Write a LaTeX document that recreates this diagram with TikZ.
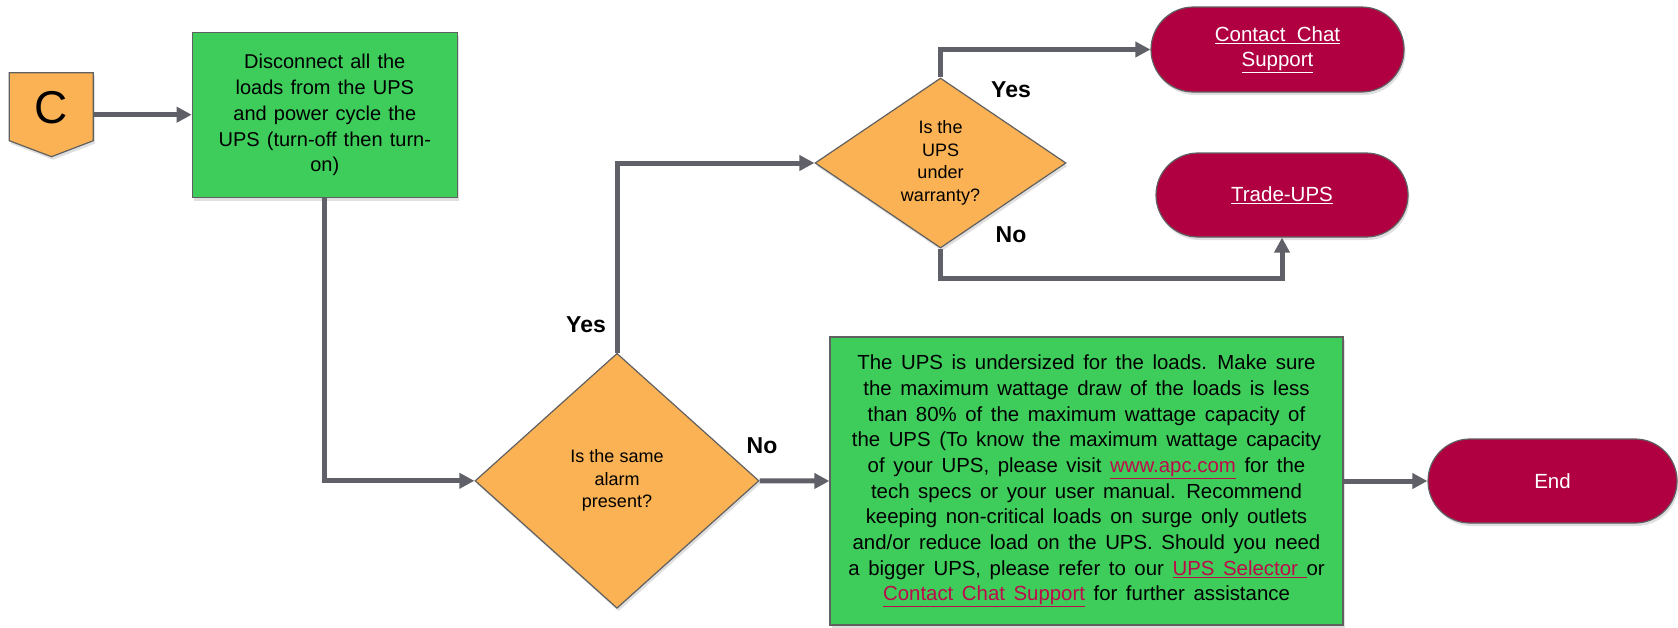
\documentclass[tikz,border=0pt]{standalone}
\usepackage{fontspec}
\setmainfont{Liberation Sans}
\usetikzlibrary{shapes.geometric,shapes.misc,shadows,arrows.meta}
\definecolor{boxgreen}{RGB}{62,205,91}
\definecolor{decorange}{RGB}{251,178,84}
\definecolor{pillred}{RGB}{176,0,66}
\definecolor{linegray}{RGB}{96,97,104}
\definecolor{bordergray}{RGB}{96,96,96}
\definecolor{linkred}{RGB}{190,10,76}
\newcommand{\lnk}[1]{{\color{linkred}\underline{#1}}}
\newcommand{\wlnk}[1]{\underline{#1}}
\newcommand{\wsA}{\fontsize{20}{25.7}\selectfont\spaceskip=0.36em plus 0.1em\relax}
\newcommand{\wsB}{\fontsize{20.4}{25.7}\selectfont\spaceskip=0.42em plus 0.1em\relax}
\tikzset{
  shad/.style={drop shadow={shadow xshift=1.5pt,shadow yshift=-3pt,opacity=0.25}},
  greenbox/.style={rectangle,draw=bordergray,line width=1.2pt,fill=boxgreen,shad,
    inner sep=0pt,align=center,font=\wsA},
  widebox/.style={greenbox,font=\wsB},
  decision/.style={diamond,draw=bordergray,line width=1.2pt,fill=decorange,shad,
    inner sep=0pt,align=center,font=\fontsize{18}{22.5}\selectfont},
  pill/.style={rounded rectangle,draw=bordergray,line width=1.2pt,fill=pillred,shad,
    inner sep=0pt,align=center,text=white,font=\fontsize{20.5}{25}\selectfont},
  arr/.style={draw=linegray,line width=5pt,-{Triangle[length=15pt,width=15pt]}},
  lbl/.style={font=\fontsize{23}{26}\selectfont\bfseries,inner sep=0pt},
  cshape/.style={draw=bordergray,line width=1.2pt,fill=decorange,shad},
}
\begin{document}
\begin{tikzpicture}[x=1pt,y=-1pt]
\useasboundingbox (0,0) rectangle (1678,627);

% connector C
\node[inner sep=0pt,minimum width=84pt,minimum height=84pt] (C) at (51.3,114.7) {};
\draw[cshape] (9.3,72.7) -- (93.3,72.7) -- (93.3,140.7) -- (51.5,156.7) -- (9.3,140.7) -- cycle;
\node[font=\fontsize{46}{50}\selectfont,inner sep=0pt] (Clabel) at (51.5,108) {C};

% boxes
\node[greenbox,minimum width=265pt,minimum height=165pt] (b1) at (324.8,115.2)
  {Disconnect all the\\loads from the UPS\\and power cycle the\\UPS (turn-off then turn-\\on)};

\node[decision,minimum width=284pt,minimum height=255pt] (d1) at (617,480.8)
  {Is the same\\alarm\\present?};

\node[decision,minimum width=251pt,minimum height=170pt] (d2) at (940.5,163)
  {Is the\\UPS\\under\\warranty?};

\node[pill,minimum width=253pt,minimum height=85pt] (cc) at (1277.5,49.5)
  {\wlnk{Contact\ \ Chat}\\\wlnk{Support}};

\node[pill,minimum width=252pt,minimum height=84pt] (tu) at (1282,195)
  {\wlnk{Trade-UPS}};

\node[widebox,minimum width=513pt,minimum height=288pt] (b2) at (1086.5,481)
  {The UPS is undersized for the loads. Make sure\\
   the maximum wattage draw of the loads is less\\
   than 80\% of the maximum wattage capacity of\\
   the UPS (To know the maximum wattage capacity\\
   of your UPS, please visit \lnk{www.apc.com} for the\\
   tech specs or your user manual. Recommend\\
   keeping non-critical loads on surge only outlets\\
   and/or reduce load on the UPS. Should you need\\
   a bigger UPS, please refer to our \lnk{UPS Selector\ }or\\
   \lnk{Contact Chat Support} for further assistance};

\node[pill,minimum width=249pt,minimum height=84pt] (end) at (1552.5,481) {End};

% connectors
\draw[arr] (C.east) -- (C.east -| b1.west);
\draw[arr] (b1.south) |- (d1.west);
\draw[arr] (d1.north) |- (d2.west);
\draw[arr] (d2.north) |- (cc.west);
\draw[arr] (d2.south) -- ++(0,30) -| (tu.south);
\draw[arr] (d1.east) -- (b2.west);
\draw[arr] (b2.east) -- (end.west);

% labels
\node[lbl] (yes1) at (586,325) {Yes};
\node[lbl] (no1) at (762,446) {No};
\node[lbl] (yes2) at (1011,90) {Yes};
\node[lbl] (no2) at (1011,235) {No};
\end{tikzpicture}
\end{document}
